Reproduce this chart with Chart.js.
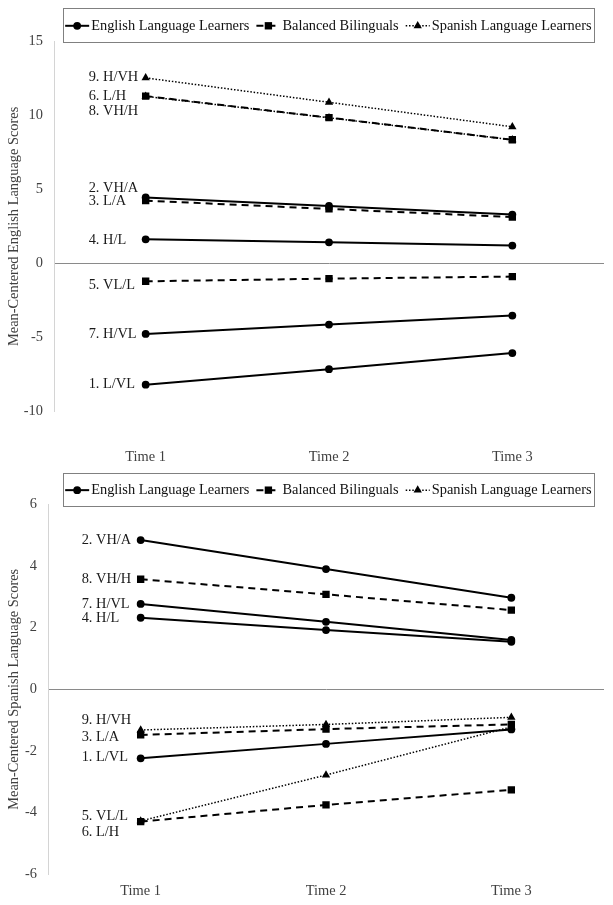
<!DOCTYPE html>
<html><head><meta charset="utf-8">
<script src="https://cdn.jsdelivr.net/npm/chart.js@4.4.1/dist/chart.umd.min.js"></script>
<style>html,body{margin:0;padding:0;background:#fff;} canvas{display:block;}</style>
</head><body>
<canvas id="eng" width="613" height="470"></canvas>
<canvas id="spa" width="613" height="435"></canvas>
<script>
// ---------- data ----------
const timePoints = ['Time 1', 'Time 2', 'Time 3'];
const profileNames = ['1. L/VL', '2. VH/A', '3. L/A', '4. H/L', '5. VL/L', '6. L/H', '7. H/VL', '8. VH/H', '9. H/VH'];
const profileGroup = ['ELL', 'ELL', 'BB', 'ELL', 'BB', 'SLL', 'ELL', 'BB', 'SLL'];
const groupKeys = ['ELL', 'BB', 'SLL'];
const groupNames = ['English Language Learners', 'Balanced Bilinguals', 'Spanish Language Learners'];

const englishTime1 = [-8.22, 4.46, 4.24, 1.62, -1.22, 11.30, -4.78, 11.32, 12.55];
const englishTime2 = [-7.17, 3.88, 3.68, 1.42, -1.04, 9.85, -4.15, 9.86, 10.90];
const englishTime3 = [-6.08, 3.30, 3.13, 1.20, -0.90, 8.36, -3.54, 8.36, 9.24];
const englishLabelAt = [-8.22, 5.07, 4.17, 1.58, -1.51, 11.29, -4.78, 10.32, 12.58];
const englishAxisRange = [-10, 15, 5];

const spanishTime1 = [-2.24, 4.84, -1.48, 2.32, -4.29, -4.27, 2.77, 3.57, -1.32];
const spanishTime2 = [-1.77, 3.90, -1.29, 1.92, -3.75, -2.78, 2.19, 3.08, -1.14];
const spanishTime3 = [-1.30, 2.97, -1.14, 1.54, -3.26, -1.22, 1.60, 2.57, -0.91];
const spanishLabelAt = [-2.21, 4.84, -1.57, 2.30, -4.13, -4.65, 2.77, 3.57, -1.00];
const spanishAxisRange = [-6, 6, 2];

// ---------- styles ----------
const FONT = '"Liberation Serif", "Times New Roman", serif';
const groupStyle = {
  ELL: { dash: [], width: 2, point: 'circle', radius: 3.9, order: 0 },
  BB:  { dash: [7, 5], width: 2, point: 'rect', radius: 5.2, order: 1 },
  SLL: { dash: [1.5, 1.8], width: 1.5, point: 'triangle', radius: 4.8, order: 2 }
};

function drawMarker(ctx, kind, x, y, r) {
  ctx.beginPath();
  if (kind === 'circle') ctx.arc(x, y, r, 0, Math.PI * 2);
  else if (kind === 'rect') { const s = r * Math.SQRT1_2; ctx.rect(x - s, y - s, 2 * s, 2 * s); }
  else { ctx.moveTo(x, y - r); ctx.lineTo(x + r * 0.866, y + r * 0.5); ctx.lineTo(x - r * 0.866, y + r * 0.5); ctx.closePath(); }
  ctx.fill();
}

const boxLegend = {
  id: 'boxLegend',
  afterDraw(chart, args, o) {
    const ctx = chart.ctx;
    ctx.save();
    ctx.strokeStyle = '#808080'; ctx.lineWidth = 1; ctx.setLineDash([]);
    ctx.strokeRect(Math.round(o.left) + 0.5, Math.round(o.top) + 0.5, Math.round(o.right - o.left), Math.round(o.bottom - o.top));
    ctx.font = '14.4px ' + FONT;
    const sample = 24, gapText = 2, gapItem = 7;
    const widths = groupNames.map(n => ctx.measureText(n).width);
    const total = widths.reduce((a, b) => a + b, 0) + 3 * (sample + gapText) + 2 * gapItem;
    let x = (o.left + o.right) / 2 - total / 2;
    const y = (o.top + o.bottom) / 2 + 0.5;
    groupKeys.forEach((k, i) => {
      const st = groupStyle[k];
      ctx.strokeStyle = '#000'; ctx.fillStyle = '#000';
      ctx.lineWidth = st.width; ctx.setLineDash(st.dash);
      ctx.beginPath(); ctx.moveTo(x, y); ctx.lineTo(x + sample, y); ctx.stroke();
      ctx.setLineDash([]);
      drawMarker(ctx, st.point, x + sample / 2, y, st.radius);
      ctx.textAlign = 'left'; ctx.textBaseline = 'middle'; ctx.fillStyle = '#111';
      ctx.fillText(groupNames[i], x + sample + gapText, y);
      x += sample + gapText + widths[i] + gapItem;
    });
    ctx.restore();
  }
};

const profileLabels = {
  id: 'profileLabels',
  afterDatasetsDraw(chart, args, o) {
    const { ctx, scales: { x, y } } = chart;
    ctx.save();
    ctx.font = '14.4px ' + FONT; ctx.fillStyle = '#1a1a1a';
    ctx.textAlign = 'left'; ctx.textBaseline = 'middle';
    const x0 = x.getPixelForValue(0) - o.offset;
    profileNames.forEach((n, i) => ctx.fillText(n, x0, y.getPixelForValue(o.at[i])));
    ctx.restore();
  }
};

function buildDatasets(t1, t2, t3) {
  return profileNames.map((name, i) => {
    const st = groupStyle[profileGroup[i]];
    return {
      label: name,
      data: [t1[i], t2[i], t3[i]],
      borderColor: '#000', backgroundColor: '#000',
      borderWidth: st.width, borderDash: st.dash,
      pointStyle: st.point, pointRadius: st.radius, pointBorderWidth: 0,
      pointBackgroundColor: '#000', tension: 0, fill: false, order: st.order
    };
  });
}

function makeChart(id, t1, t2, t3, labelAt, range, title, lay) {
  new Chart(document.getElementById(id), {
    type: 'line',
    data: { labels: timePoints, datasets: buildDatasets(t1, t2, t3) },
    plugins: [boxLegend, profileLabels],
    options: {
      responsive: false, animation: false, events: [],
      layout: { padding: { top: lay.top, right: lay.right, left: 0, bottom: 0 } },
      plugins: {
        legend: { display: false }, tooltip: { enabled: false },
        boxLegend: lay.legend,
        profileLabels: { at: labelAt, offset: lay.labelOffset }
      },
      scales: {
        x: {
          type: 'category', offset: true,
          grid: { display: false }, border: { display: false },
          ticks: { color: '#404040', font: { family: FONT, size: 14.4 }, padding: lay.xPad, maxRotation: 0 },
          afterFit: s => { s.height = lay.xHeight; }
        },
        y: {
          min: range[0], max: range[1],
          ticks: { stepSize: range[2], color: '#404040', font: { family: FONT, size: 14.4 }, padding: 11 },
          grid: { drawTicks: false, lineWidth: 1, color: c => (c.tick && c.tick.value === 0) ? '#8a8a8a' : 'rgba(0,0,0,0)' },
          border: { display: true, color: '#d4d4d4', width: 1 },
          title: { display: true, text: title, color: '#404040', font: { family: FONT, size: 14.4 }, padding: { top: 5.5, bottom: 0 } },
          afterFit: s => { s.width = lay.yWidth; }
        }
      }
    }
  });
}

makeChart('eng', englishTime1, englishTime2, englishTime3, englishLabelAt, englishAxisRange,
  'Mean-Centered English Language Scores',
  { top: 41.7, right: 9, xPad: 29.5, xHeight: 59, yWidth: 54, labelOffset: 57,
    legend: { left: 62.7, right: 594, top: 8.3, bottom: 42.3 } });

makeChart('spa', spanishTime1, spanishTime2, spanishTime3, spanishLabelAt, spanishAxisRange,
  'Mean-Centered Spanish Language Scores',
  { top: 34.3, right: 9, xPad: 0, xHeight: 30.7, yWidth: 48, labelOffset: 59,
    legend: { left: 62.7, right: 594, top: 3.3, bottom: 36 } });
</script>
</body></html>
